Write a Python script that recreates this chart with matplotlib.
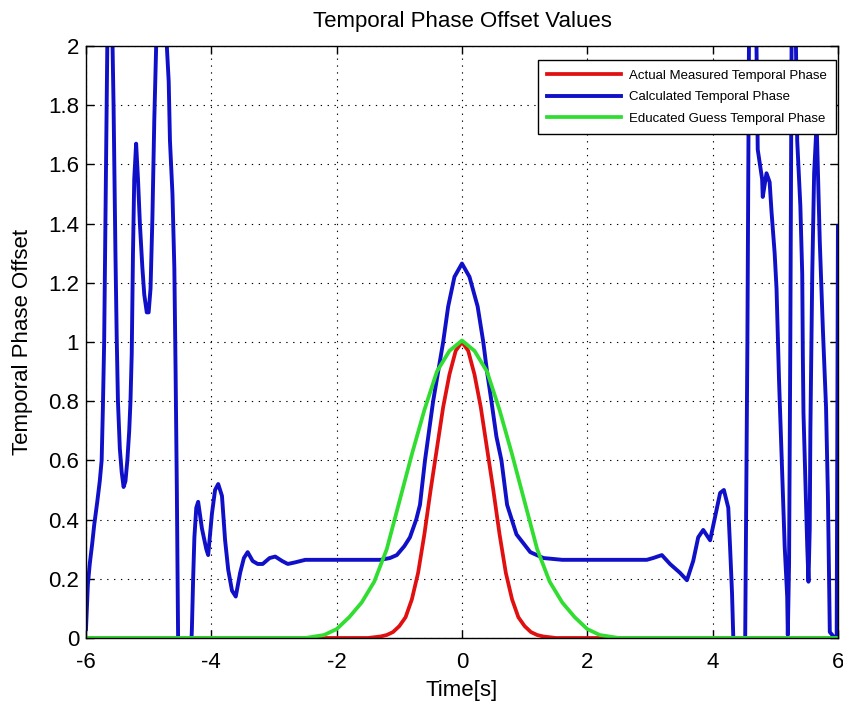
import numpy as np
import matplotlib.pyplot as plt

plt.rcParams.update({'font.size': 16,
                     'font.family': 'Liberation Sans'})
plt.rc('axes', unicode_minus=False)

# Actual measured temporal phase (red)
t_red = [-6.0, -1.5, -1.3, -1.2, -1.1, -1.0, -0.9, -0.8, -0.7, -0.6, -0.5, -0.4,
         -0.3, -0.2, -0.1, 0.0, 0.1, 0.2, 0.3, 0.4, 0.5, 0.6, 0.7, 0.8, 0.9,
         1.0, 1.1, 1.2, 1.3, 1.5, 6.0]
v_red = [0.0, 0.0, 0.005, 0.01, 0.02, 0.04, 0.07, 0.13, 0.22, 0.35, 0.5, 0.64,
         0.78, 0.89, 0.97, 1.0, 0.97, 0.89, 0.78, 0.64, 0.5, 0.35, 0.22, 0.13, 0.07,
         0.04, 0.02, 0.01, 0.005, 0.0, 0.0]

# Educated guess temporal phase (green)
t_green = [-6.0, -2.5, -2.2, -2.0, -1.8, -1.6, -1.4, -1.2, -1.0, -0.8, -0.6, -0.4,
           -0.2, 0.0, 0.2, 0.4, 0.6, 0.8, 1.0, 1.2, 1.4, 1.6, 1.8, 2.0, 2.2, 2.5, 6.0]
v_green = [0.0, 0.0, 0.01, 0.03, 0.07, 0.12, 0.19, 0.3, 0.46, 0.62, 0.77, 0.9,
           0.97, 1.005, 0.97, 0.9, 0.77, 0.62, 0.46, 0.3, 0.19, 0.12, 0.07, 0.03,
           0.01, 0.0, 0.0]

# Calculated temporal phase (blue)
t_blue = [-6.00, -5.97, -5.94, -5.90, -5.87, -5.82, -5.78, -5.75, -5.73, -5.71,
          -5.69, -5.66, -5.62, -5.58, -5.56, -5.53, -5.51, -5.49, -5.46, -5.43,
          -5.40, -5.37, -5.34, -5.31, -5.29, -5.27, -5.25, -5.23, -5.20, -5.17,
          -5.14, -5.10, -5.07, -5.03, -5.00, -4.97, -4.94, -4.91, -4.88, -4.79,
          -4.71, -4.68, -4.66, -4.62, -4.59, -4.57, -4.55, -4.53, -4.45, -4.35,
          -4.31, -4.29, -4.27, -4.24, -4.21, -4.15, -4.08, -4.05, -3.99, -3.94,
          -3.89, -3.83, -3.78, -3.73, -3.67, -3.61, -3.54, -3.48, -3.42, -3.34,
          -3.26, -3.18, -3.07, -2.98, -2.87, -2.78, -2.67, -2.5, -2.0, -1.5,
          -1.3, -1.15, -1.04, -0.92, -0.83, -0.73, -0.67, -0.59, -0.46, -0.38,
          -0.30, -0.22, -0.12, 0.0, 0.12, 0.25, 0.34, 0.40, 0.47, 0.55,
          0.63, 0.72, 0.87, 1.09, 1.30, 1.6, 2.0, 2.5, 2.95, 3.05,
          3.19, 3.32, 3.48, 3.59, 3.69, 3.77, 3.85, 3.96, 4.04, 4.12,
          4.18, 4.25, 4.28, 4.31, 4.33, 4.42, 4.50, 4.52, 4.555, 4.58,
          4.64, 4.70, 4.72, 4.79, 4.80, 4.86, 4.91, 4.94, 4.99, 5.02,
          5.04, 5.06, 5.09, 5.12, 5.15, 5.19, 5.20, 5.22, 5.24, 5.26,
          5.29, 5.33, 5.35, 5.40, 5.43, 5.44, 5.45, 5.48, 5.51, 5.53,
          5.55, 5.56, 5.58, 5.59, 5.62, 5.66, 5.71, 5.76, 5.81, 5.84,
          5.86, 5.87, 5.95, 5.98, 6.00]
v_blue = [0.03, 0.18, 0.25, 0.32, 0.38, 0.46, 0.53, 0.60, 0.78, 1.00,
          1.40, 2.00, 2.25, 2.05, 1.80, 1.30, 1.02, 0.80, 0.64, 0.56,
          0.51, 0.53, 0.60, 0.70, 0.80, 0.96, 1.30, 1.55, 1.67, 1.55,
          1.40, 1.25, 1.16, 1.10, 1.10, 1.18, 1.42, 1.75, 2.00, 2.35,
          2.00, 1.88, 1.68, 1.50, 1.25, 0.90, 0.50, 0.00, -0.40, -0.20,
          0.03, 0.20, 0.34, 0.44, 0.46, 0.37, 0.30, 0.28, 0.42, 0.50,
          0.52, 0.48, 0.33, 0.23, 0.16, 0.14, 0.22, 0.27, 0.29, 0.26,
          0.25, 0.25, 0.27, 0.275, 0.26, 0.25, 0.255, 0.264, 0.264, 0.264,
          0.264, 0.27, 0.28, 0.31, 0.34, 0.40, 0.45, 0.60, 0.80, 0.90,
          1.00, 1.12, 1.22, 1.265, 1.22, 1.12, 1.00, 0.90, 0.80, 0.68,
          0.60, 0.45, 0.35, 0.29, 0.27, 0.264, 0.264, 0.264, 0.264, 0.27,
          0.28, 0.25, 0.22, 0.195, 0.26, 0.34, 0.365, 0.33, 0.41, 0.49,
          0.50, 0.44, 0.30, 0.15, 0.00, -0.40, -0.20, 0.00, 1.00, 2.00,
          2.40, 2.00, 1.65, 1.55, 1.49, 1.57, 1.54, 1.44, 1.30, 1.18,
          1.03, 0.87, 0.68, 0.48, 0.31, 0.14, 0.01, 0.25, 1.00, 2.00,
          2.30, 2.00, 1.68, 1.46, 1.23, 0.95, 0.76, 0.53, 0.31, 0.19,
          0.37, 0.70, 1.04, 1.23, 1.57, 1.74, 1.34, 1.04, 0.78, 0.48,
          0.19, 0.02, 0.00, 0.00, 1.39]

fig = plt.figure(figsize=(8.43, 7.04), dpi=100)
ax = fig.add_axes([0.102, 0.0938, 0.892, 0.8409])

ax.plot(t_red, v_red, color='#e01010', lw=2.7, label='Actual Measured Temporal Phase')
ax.plot(t_blue, v_blue, color='#1010c8', lw=2.8, label='Calculated Temporal Phase')
ax.plot(t_green, v_green, color='#30dd30', lw=2.7, label='Educated Guess Temporal Phase')

ax.set_xlim(-6, 6)
ax.set_ylim(0, 2)
ax.set_xticks(np.arange(-6, 7, 2))
ax.set_yticks(np.arange(0, 2.01, 0.2))
ax.set_yticklabels(['0', '0.2', '0.4', '0.6', '0.8', '1', '1.2', '1.4', '1.6', '1.8', '2'])
ax.tick_params(direction='in', length=6, top=True, right=True, width=1)
ax.tick_params(axis='x', pad=10)
ax.tick_params(axis='y', pad=5)
ax.grid(True, color='black', linestyle=(0, (1.2, 5)), linewidth=0.8)
for s in ax.spines.values():
    s.set_linewidth(1)

ax.set_title('Temporal Phase Offset Values', fontsize=16, pad=14)
ax.set_xlabel('Time[s]', fontsize=16, labelpad=5)
ax.set_ylabel('Temporal Phase Offset', fontsize=16, labelpad=11)

leg = ax.legend(loc='upper right', bbox_to_anchor=(0.997, 0.976), borderaxespad=0,
                fontsize=9.5, handlelength=5.6, handletextpad=0.6, labelspacing=0.7,
                fancybox=False, framealpha=1, edgecolor='black', borderpad=0.7)
leg.get_frame().set_linewidth(1)

plt.savefig('out.png', dpi=100)
